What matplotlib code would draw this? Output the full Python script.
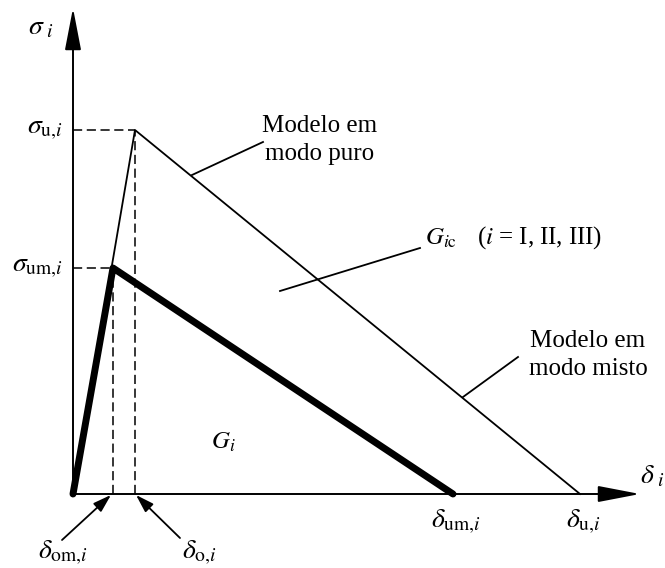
import matplotlib
matplotlib.use("Agg")
import matplotlib.pyplot as plt

plt.rcParams['font.family'] = ['Liberation Serif', 'DejaVu Serif']
plt.rcParams['mathtext.fontset'] = 'stix'

# valores (unidades arbitrarias)
delta_om = 40
delta_o = 62
delta_um = 380
delta_u = 507
sigma_um = 226
sigma_u = 364

# modelo em modo puro e modo misto
puro_x = [0, delta_o, delta_u]
puro_y = [0, sigma_u, 0]
misto_x = [0, delta_om, delta_um]
misto_y = [0, sigma_um, 0]

fig = plt.figure(figsize=(6.65, 5.68), dpi=100)
ax = fig.add_axes([0, 0, 1, 1])
ax.set_xlim(-73, 592)
ax.set_ylim(-74, 494)
ax.axis('off')

fs = 18

# eixos com setas
ax.annotate('', xy=(567, 0), xytext=(0, 0),
            arrowprops=dict(arrowstyle='-|>,head_length=2.6,head_width=0.5',
                            mutation_scale=10, color='k', lw=1.4,
                            shrinkA=0, shrinkB=0))
ax.annotate('', xy=(0, 486), xytext=(0, 0),
            arrowprops=dict(arrowstyle='-|>,head_length=2.6,head_width=0.5',
                            mutation_scale=10, color='k', lw=1.4,
                            shrinkA=0, shrinkB=0))

# linhas tracejadas
dash = dict(color='k', lw=1.1, dashes=(6, 3))
ax.plot([0, delta_o], [sigma_u, sigma_u], **dash)
ax.plot([delta_o, delta_o], [0, sigma_u], **dash)
ax.plot([0, delta_om], [sigma_um, sigma_um], **dash)
ax.plot([delta_om, delta_om], [0, sigma_um], **dash)

ax.plot(puro_x, puro_y, color='k', lw=1.3)
ax.plot(misto_x, misto_y, color='k', lw=5, solid_capstyle='round')

# linhas de chamada
ax.plot([119, 190], [319, 352], color='k', lw=1.3)
ax.plot([207, 347], [203, 246], color='k', lw=1.3)
ax.plot([390, 445], [97, 137], color='k', lw=1.3)

ax.text(247, 354, 'Modelo em\nmodo puro', fontsize=fs, ha='center',
        va='center', linespacing=1.4)
ax.text(515, 139, 'Modelo em\nmodo misto', fontsize=fs, ha='center',
        va='center', linespacing=1.4)
ax.text(352, 256, r'$G_{i\mathrm{c}}$', fontsize=fs, ha='left', va='center')
ax.text(404, 256, '($i$ = I, II, III)', fontsize=fs, ha='left', va='center')
ax.text(150, 52, r'$G_i$', fontsize=fs, ha='center', va='center')

# rotulos dos eixos
ax.text(-32, 466, r'$\sigma_{\ i}$', fontsize=fs + 2, ha='center', va='center')
ax.text(567, 17, r'$\delta_{\ i}$', fontsize=fs + 2, ha='left', va='center')
ax.text(-10, sigma_u, r'$\sigma_{\mathrm{u},\!i}$', fontsize=fs + 2,
        ha='right', va='center')
ax.text(-10, sigma_um, r'$\sigma_{\mathrm{um},\!i}$', fontsize=fs + 2,
        ha='right', va='center')
ax.text(delta_um + 3, -28, r'$\delta_{\mathrm{um},\!i}$', fontsize=fs + 2,
        ha='center', va='center')
ax.text(delta_u + 3, -28, r'$\delta_{\mathrm{u},\!i}$', fontsize=fs + 2,
        ha='center', va='center')

small = dict(arrowstyle='-|>,head_length=1.1,head_width=0.35',
             mutation_scale=10, color='k', lw=1.3, shrinkA=0, shrinkB=1)
ax.annotate('', xy=(delta_om - 1, 0), xytext=(-11, -46), arrowprops=small)
ax.annotate('', xy=(delta_o, 0), xytext=(107, -44), arrowprops=small)
ax.text(-10, -59, r'$\delta_{\mathrm{om},\!i}$', fontsize=fs + 2,
        ha='center', va='center')
ax.text(126, -59, r'$\delta_{\mathrm{o},\!i}$', fontsize=fs + 2,
        ha='center', va='center')

fig.savefig('out.png', dpi=100)
